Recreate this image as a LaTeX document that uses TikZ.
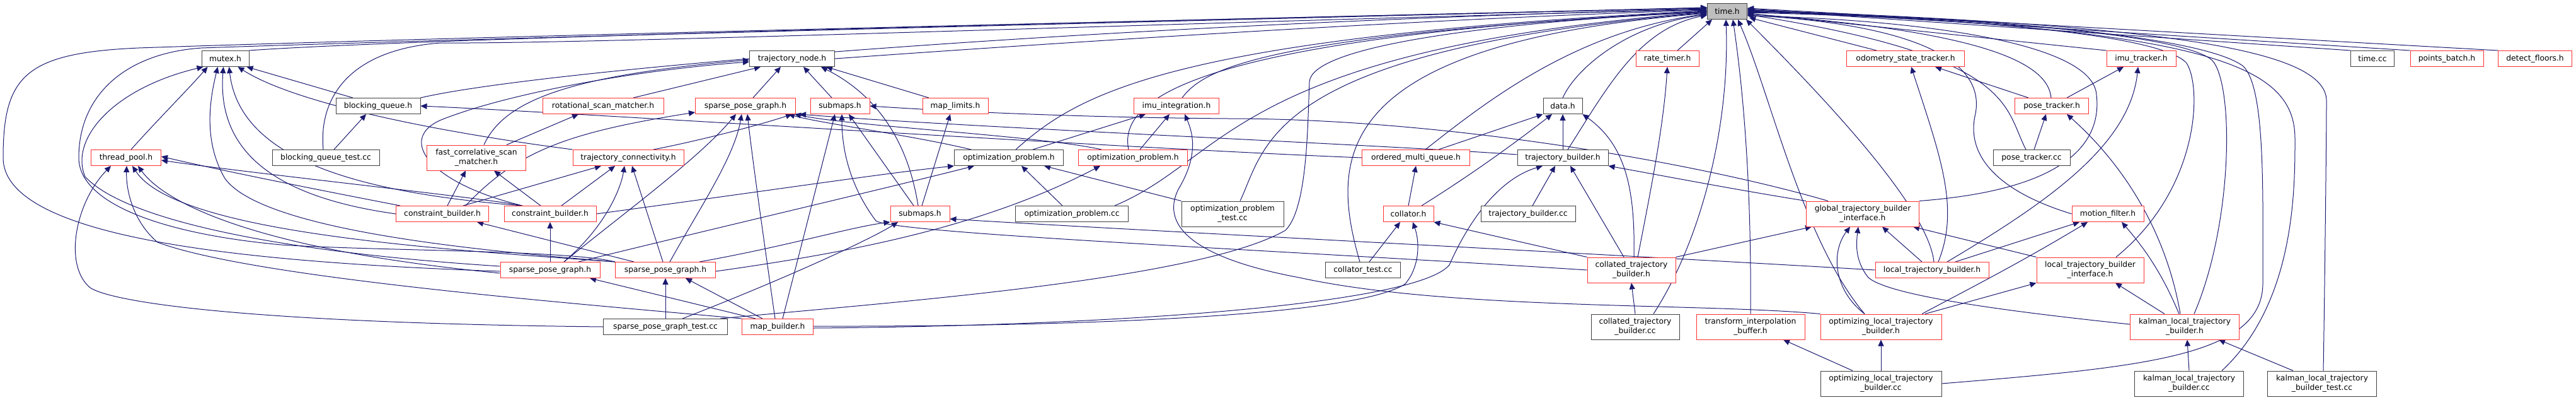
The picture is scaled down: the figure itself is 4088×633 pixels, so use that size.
\documentclass[tikz,border=0pt]{standalone}
\usepackage{fontspec}
\setmainfont{DejaVu Sans}
\usetikzlibrary{arrows.meta}
\definecolor{edgec}{HTML}{191970}
\definecolor{redb}{HTML}{FF3030}
\definecolor{darkb}{HTML}{404040}
\pgfdeclarelayer{bg}
\pgfsetlayers{bg,main}
\tikzset{
 box/.style={draw, line width=1pt, fill=white, inner sep=0pt, minimum height=25pt, font=\fontsize{12.3}{15}\selectfont, align=center},
 rbox/.style={box, draw=redb},
 kbox/.style={box, draw=darkb},
 two/.style={minimum height=40pt},
 e/.style={draw=edgec, line width=1pt, -{Triangle[length=10pt,width=9pt]}},
}
\begin{document}
\begin{tikzpicture}[x=1pt,y=-1pt]
\useasboundingbox (0,0) rectangle (4088,633);
% R0
\node[kbox, fill=gray!50, minimum width=63pt] (time) at (2741,18) {time.h};
% R1
\node[kbox, minimum width=75pt] (mutex) at (357.5,93) {mutex.h};
\node[kbox, minimum width=135pt] (tnode) at (1257,93) {trajectory\_node.h};
\node[rbox, minimum width=100pt] (ratetimer) at (2646,93) {rate\_timer.h};
\node[rbox, minimum width=187pt] (odom) at (3024,93) {odometry\_state\_tracker.h};
\node[rbox, minimum width=110pt] (imutrk) at (3398,93) {imu\_tracker.h};
\node[kbox, minimum width=69pt] (timecc) at (3765,93) {time.cc};
\node[rbox, minimum width=116pt] (pointsb) at (3883,93) {points\_batch.h};
\node[rbox, minimum width=117pt] (detectf) at (4023,93) {detect\_floors.h};
% R2
\node[kbox, minimum width=134pt] (bq) at (600,168) {blocking\_queue.h};
\node[rbox, minimum width=192pt] (rot) at (957,168) {rotational\_scan\_matcher.h};
\node[rbox, minimum width=159pt] (spg2) at (1183,168) {sparse\_pose\_graph.h};
\node[rbox, minimum width=94pt] (sub2) at (1333,168) {submaps.h};
\node[rbox, minimum width=104pt] (maplim) at (1516,168) {map\_limits.h};
\node[rbox, minimum width=135pt] (imuint) at (1867,168) {imu\_integration.h};
\node[kbox, minimum width=62pt] (data) at (2480,168) {data.h};
\node[rbox, minimum width=117pt] (ptrk) at (3256,168) {pose\_tracker.h};
% R3
\node[rbox, minimum width=111pt] (tpool) at (200,250) {thread\_pool.h};
\node[kbox, minimum width=170pt] (bqtest) at (517,250) {blocking\_queue\_test.cc};
\node[rbox, two, minimum width=157pt] (fcsm) at (756,250) {fast\_correlative\_scan\\\_matcher.h};
\node[rbox, minimum width=176pt] (tconn) at (997,250) {trajectory\_connectivity.h};
\node[kbox, minimum width=173pt] (optb) at (1601,250) {optimization\_problem.h};
\node[rbox, minimum width=173pt] (optr) at (1798,250) {optimization\_problem.h};
\node[rbox, minimum width=171pt] (omq) at (2247,250) {ordered\_multi\_queue.h};
\node[kbox, minimum width=144pt] (tb) at (2480,250) {trajectory\_builder.h};
\node[kbox, minimum width=122pt] (ptcc) at (3224,250) {pose\_tracker.cc};
% R4
\node[rbox, minimum width=147pt] (cbA) at (702,339) {constraint\_builder.h};
\node[rbox, minimum width=146pt] (cbB) at (873,339) {constraint\_builder.h};
\node[rbox, minimum width=94pt] (sub4) at (1460,339) {submaps.h};
\node[kbox, minimum width=179pt] (optcc) at (1701,339) {optimization\_problem.cc};
\node[kbox, two, minimum width=162pt] (opttest) at (1956,339) {optimization\_problem\\\_test.cc};
\node[rbox, minimum width=80pt] (coll) at (2235,339) {collator.h};
\node[kbox, minimum width=150pt] (tbcc) at (2425,339) {trajectory\_builder.cc};
\node[rbox, two, minimum width=179pt] (gtbi) at (2956,339) {global\_trajectory\_builder\\\_interface.h};
\node[rbox, minimum width=114pt] (mf) at (3345,339) {motion\_filter.h};
% R5
\node[rbox, minimum width=158pt] (spgA) at (873,428) {sparse\_pose\_graph.h};
\node[rbox, minimum width=159pt] (spgB) at (1056,428) {sparse\_pose\_graph.h};
\node[kbox, minimum width=119pt] (colltest) at (2163,428) {collator\_test.cc};
\node[rbox, two, minimum width=140pt] (ctbh) at (2589,428) {collated\_trajectory\\\_builder.h};
\node[rbox, minimum width=180pt] (ltb) at (3066,428) {local\_trajectory\_builder.h};
\node[rbox, two, minimum width=170pt] (ltbi) at (3317,428) {local\_trajectory\_builder\\\_interface.h};
% R6
\node[kbox, minimum width=197pt] (spgtest) at (1056,518) {sparse\_pose\_graph\_test.cc};
\node[rbox, minimum width=113pt] (mb) at (1234,518) {map\_builder.h};
\node[kbox, two, minimum width=140pt] (ctbcc) at (2595,518) {collated\_trajectory\\\_builder.cc};
\node[rbox, two, minimum width=172pt] (tib) at (2778,518) {transform\_interpolation\\\_buffer.h};
\node[rbox, two, minimum width=192pt] (oltbh) at (2985,518) {optimizing\_local\_trajectory\\\_builder.h};
\node[rbox, two, minimum width=173pt] (kltbh) at (3467,518) {kalman\_local\_trajectory\\\_builder.h};
% R7
\node[kbox, two, minimum width=192pt] (oltbcc) at (2985,608) {optimizing\_local\_trajectory\\\_builder.cc};
\node[kbox, two, minimum width=173pt] (kltbcc) at (3474,608) {kalman\_local\_trajectory\\\_builder.cc};
\node[kbox, two, minimum width=173pt] (kltbtest) at (3685,608) {kalman\_local\_trajectory\\\_builder\_test.cc};

\begin{pgfonlayer}{bg}
% ---- to time.h from the left
\draw[e] (mutex.north east) .. controls (700,58) and (2200,24) .. ([yshift=5]time.west);
\draw[e] (bq.north east) .. controls (850,112) and (1700,40) .. ([yshift=4]time.west);
\draw[e] ([xshift=-4]bqtest.north) .. controls (505,150) and (560,78) .. (700,68) .. controls (950,70) and (2000,32) .. ([yshift=3]time.west);
\draw[e] (tnode.east) .. controls (1700,66) and (2300,28) .. ([yshift=2]time.west);
\draw[e] ([yshift=-2]spgA.west) .. controls (400,416) and (5,380) .. (5,250) .. controls (5,120) and (40,84) .. (220,76) .. controls (800,56) and (2150,26) .. ([yshift=6]time.west);
\draw[e] (spgB.north west) .. controls (900,396) and (600,398) .. (446,388) .. controls (250,370) and (125,320) .. (125,250) .. controls (125,150) and (200,84) .. (320,76) .. controls (900,56) and (2150,27) .. ([yshift=6]time.west);
\draw[e] ([xshift=-12]spgtest.north east) .. controls (1400,480) and (1900,445) .. (2040,365) .. controls (2075,330) and (2075,200) .. (2078,130) .. controls (2080,80) and (2300,40) .. (time.west);
\draw[e] ([xshift=11]optb.north) .. controls (1710,150) and (1850,60) .. ([yshift=1]time.west);
\draw[e] ([xshift=-7]optr.north) .. controls (1775,160) and (1880,60) .. (time.west);
\draw[e] ([xshift=9]imuint.north) .. controls (1910,110) and (2000,55) .. ([yshift=-1]time.west);
\draw[e] ([xshift=68]optcc.north) .. controls (1950,250) and (1955,80) .. ([yshift=-1]time.west);
\draw[e] ([xshift=12]opttest.north) .. controls (2010,230) and (2010,80) .. ([yshift=-2]time.west);
\draw[e] ([xshift=-5]colltest.north) .. controls (2110,250) and (2110,70) .. ([yshift=-3]time.west);
\draw[e] ([xshift=15]omq.north) .. controls (2360,160) and (2500,50) .. ([yshift=-4]time.west);
\draw[e] (data.north) .. controls (2500,110) and (2580,40) .. ([yshift=-5]time.west);
\draw[e] ([xshift=8]tb.north) .. controls (2550,140) and (2600,45) .. ([yshift=-6]time.west);
% ---- to time.h from below
\draw[e] ([xshift=16]ratetimer.north) -- ([xshift=8]time.south west);
\draw[e] ([xshift=29]ctbcc.north) .. controls (2700,380) and (2745,200) .. ([xshift=-2]time.south);
\draw[e] (tib.north) .. controls (2780,250) and (2760,100) .. ([xshift=9]time.south);
\draw[e] ([xshift=-26]oltbh.north) .. controls (2860,380) and (2810,150) .. ([xshift=17]time.south);
\draw[e] ([xshift=3]ltb.north) .. controls (3060,330) and (2900,160) .. ([xshift=-2]time.south east);
\draw[e] ([xshift=-46]odom.north) -- ([xshift=3,yshift=3]time.south east);
% ---- to time.h from the right
\draw[e] (gtbi.north east) .. controls (3290,300) and (3335,220) .. (3327,150) .. controls (3320,60) and (3000,30) .. ([yshift=-7]time.east);
\draw[e] (mf.west) .. controls (3160,300) and (3120,240) .. (3135,180) .. controls (3150,100) and (3050,40) .. ([yshift=-6]time.east);
\draw[e] ([xshift=-9]ptcc.north) .. controls (3180,170) and (3200,90) .. ([yshift=-5]time.east);
\draw[e] ([xshift=-1]ptrk.north) .. controls (3250,100) and (3150,50) .. ([yshift=-4]time.east);
\draw[e] (imutrk.north west) -- ([yshift=-3]time.east);
\draw[e] ([xshift=41]ltbi.north) .. controls (3490,300) and (3495,140) .. (3470,100) .. controls (3420,45) and (3000,25) .. ([yshift=-2]time.east);
\draw[e] ([xshift=15]kltbh.north) .. controls (3545,350) and (3545,130) .. (3510,95) .. controls (3450,45) and (3000,24) .. ([yshift=-1]time.east);
\draw[e] (oltbcc.east) .. controls (3400,582) and (3590,565) .. (3591,450) .. controls (3591,300) and (3595,140) .. (3560,105) .. controls (3480,45) and (3000,23) .. (time.east);
\draw[e] ([xshift=52]kltbcc.north) .. controls (3642,480) and (3642,300) .. (3642,220) .. controls (3642,100) and (3500,45) .. ([yshift=1]time.east);
\draw[e] ([xshift=2]kltbtest.north) .. controls (3690,400) and (3692,200) .. (3692,160) .. controls (3692,80) and (3450,40) .. ([yshift=2]time.east);
\draw[e] (timecc.north west) -- ([yshift=3]time.east);
\draw[e] (pointsb.north west) -- ([yshift=4]time.east);
\draw[e] (detectf.north west) -- ([yshift=5]time.east);
% ---- mutex.h
\draw[e] ([xshift=-40]bq.north) -- ([xshift=-4]mutex.south east);
\draw[e] ([xshift=8]tpool.north) .. controls (250,190) and (300,140) .. ([xshift=-28]mutex.south);
\draw[e] (tconn.north west) .. controls (700,210) and (470,165) .. ([xshift=20]mutex.south);
\draw[e] (cbA.west) .. controls (420,310) and (345,230) .. ([xshift=-3]mutex.south);
\draw[e] ([xshift=29]cbB.north west) .. controls (560,305) and (380,250) .. ([xshift=6]mutex.south);
\draw[e] ([yshift=6]spgA.west) .. controls (450,400) and (200,350) .. (135,280) .. controls (110,220) and (180,140) .. ([xshift=-35]mutex.south);
\draw[e] (spgB.north west) .. controls (800,400) and (420,370) .. (357,283) .. controls (320,220) and (335,150) .. ([xshift=-12]mutex.south);
% ---- thread_pool.h
\draw[e] ([xshift=7]cbA.north west) .. controls (500,300) and (350,270) .. ([yshift=2]tpool.east);
\draw[e] ([xshift=29]cbB.north west) .. controls (780,315) and (400,275) .. ([yshift=-4]tpool.east);
\draw[e] ([yshift=-5]spgA.west) .. controls (400,395) and (260,320) .. ([xshift=19]tpool.south);
\draw[e] (spgB.north west) .. controls (700,395) and (280,370) .. ([xshift=10]tpool.south);
\draw[e] (mb.north west) .. controls (900,480) and (400,440) .. (250,384) .. controls (210,350) and (200,300) .. ([xshift=1]tpool.south);
\draw[e] (spgtest.west) .. controls (400,512) and (180,480) .. (143,456) .. controls (100,420) and (120,320) .. ([xshift=-24]tpool.south);
% ---- blocking_queue.h
\draw[e] ([xshift=13]bqtest.north) -- ([xshift=-19]bq.south);
\draw[e] (omq.west) .. controls (1800,236) and (900,178) .. (bq.east);
% ---- trajectory_node.h
\draw[e] ([xshift=48]rot.north) -- ([xshift=-50]tnode.south);
\draw[e] ([xshift=12]spg2.north) -- ([xshift=-18]tnode.south);
\draw[e] ([xshift=-13]sub2.north) -- ([xshift=18]tnode.south);
\draw[e] ([xshift=-42]maplim.north) -- ([xshift=-14]tnode.south east);
\draw[e] ([xshift=-3]sub4.north) .. controls (1445,250) and (1410,160) .. ([xshift=-22]tnode.south east);
\draw[e] ([xshift=12]fcsm.north) .. controls (800,160) and (900,120) .. ([yshift=-2]tnode.west);
\draw[e] ([xshift=-44]cbB.north) .. controls (680,290) and (630,220) .. (700,190) .. controls (800,150) and (1000,112) .. ([yshift=-5]tnode.west);
% ---- rotational / fast_correlative
\draw[e] ([xshift=48]fcsm.north) -- ([xshift=-39]rot.south);
\draw[e] ([xshift=8]cbA.north) -- ([xshift=-17]fcsm.south);
\draw[e] ([xshift=-15]cbB.north) -- ([xshift=28]fcsm.south);
% ---- sparse_pose_graph.h (top)
\draw[e] ([xshift=37]cbA.north) .. controls (820,240) and (900,210) .. ([yshift=3]spg2.south west);
\draw[e] ([xshift=22]spgA.north) .. controls (1000,330) and (1110,250) .. ([xshift=-15]spg2.south);
\draw[e] ([xshift=7]spgB.north) .. controls (1110,330) and (1165,250) .. ([xshift=-6]spg2.south);
\draw[e] ([xshift=-4]mb.north) .. controls (1215,400) and (1195,260) .. ([xshift=3]spg2.south);
\draw[e] ([xshift=-60]optb.north) .. controls (1450,215) and (1300,195) .. ([xshift=-12]spg2.south east);
\draw[e] ([xshift=-50]optr.north) .. controls (1650,215) and (1350,200) .. ([xshift=-2]spg2.south east);
\draw[e] ([yshift=5]tb.west) .. controls (2200,230) and (1500,200) .. ([xshift=6]spg2.south east);
\draw[e] ([xshift=40]tconn.north) .. controls (1100,225) and (1200,200) .. ([xshift=-6]spg2.south east);
% ---- submaps.h (top)
\draw[e] ([xshift=-55]gtbi.north) .. controls (2700,260) and (2300,188) .. (1950,188) .. controls (1700,186) and (1500,176) .. (sub2.east);
\draw[e] ([xshift=8]mb.north) -- ([xshift=-8]sub2.south);
\draw[e] (ctbh.west) .. controls (2000,395) and (1420,370) .. (1390,350) .. controls (1345,290) and (1336,230) .. ([xshift=3]sub2.south);
\draw[e] ([xshift=-10]sub4.north) -- ([xshift=14]sub2.south);
% ---- map_limits.h
\draw[e] ([xshift=3]sub4.north) -- ([xshift=-8]maplim.south);
% ---- imu_integration.h
\draw[e] ([xshift=38]optb.north) -- ([xshift=-49]imuint.south);
\draw[e] ([xshift=11]optr.north) -- ([xshift=-11]imuint.south);
\draw[e] (oltbh.north west) .. controls (2700,480) and (2300,492) .. (2062,440) .. controls (1900,410) and (1840,360) .. (1870,300) .. controls (1900,250) and (1895,215) .. ([xshift=13]imuint.south);
% ---- trajectory_connectivity.h
\draw[e] ([xshift=33]cbA.north) -- ([xshift=-43]tconn.south);
\draw[e] ([xshift=18]cbB.north) -- ([xshift=-21]tconn.south);
\draw[e] ([xshift=22]spgA.north) .. controls (960,360) and (985,300) .. ([xshift=-6]tconn.south);
\draw[e] ([xshift=-4]spgB.north) -- ([xshift=6]tconn.south);
% ---- optimization_problem.h (black)
\draw[e] (cbB.east) .. controls (1200,305) and (1400,275) .. (optb.south west);
\draw[e] ([xshift=45]spgA.north) .. controls (1100,370) and (1400,300) .. ([xshift=-55]optb.south);
\draw[e] ([xshift=-15]optcc.north) -- ([xshift=20]optb.south);
\draw[e] (opttest.north west) -- ([xshift=56]optb.south);
% ---- optimization_problem.h (red)
\draw[e] ([yshift=-2]spgB.east) .. controls (1350,400) and (1560,360) .. ([xshift=-52]optr.south);
% ---- submaps.h (lower)
\draw[e] ([xshift=54]spgB.north) .. controls (1250,390) and (1350,360) .. (sub4.south west);
\draw[e] ([xshift=27]spgtest.north) .. controls (1250,440) and (1380,380) .. ([xshift=-35]sub4.south);
\draw[e] (ltb.west) .. controls (2500,400) and (1800,365) .. ([yshift=-8]sub4.east);
% ---- constraint builders
\draw[e] ([xshift=30]spgB.north west) -- ([xshift=55]cbA.south);
\draw[e] (spgA.north) -- (cbB.south);
% ---- sparse_pose_graph.h (lower)
\draw[e] ([xshift=-35]mb.north) -- ([xshift=63]spgA.south);
\draw[e] ([xshift=-24]mb.north) -- ([xshift=32]spgB.south);
\draw[e] (spgtest.north) -- (spgB.south);
% ---- data.h
\draw[e] ([xshift=36]omq.north) -- (data.south west);
\draw[e] ([xshift=21]coll.north) .. controls (2330,280) and (2400,230) .. ([xshift=-17]data.south);
\draw[e] (tb.north) -- (data.south);
\draw[e] ([xshift=4]ctbh.north) .. controls (2595,300) and (2580,230) .. (data.south east);
% ---- ordered_multi_queue.h
\draw[e] (coll.north) -- (omq.south);
% ---- trajectory_builder.h
\draw[e] ([xshift=7]tbcc.north) -- ([xshift=-12]tb.south);
\draw[e] ([xshift=-12]ctbh.north) -- ([xshift=12]tb.south);
\draw[e] ([yshift=-2]mb.east) .. controls (1800,516) and (2250,480) .. (2300,420) .. controls (2340,330) and (2390,280) .. ([xshift=-32]tb.south);
\draw[e] (gtbi.north west) .. controls (2750,300) and (2620,275) .. (tb.south east);
% ---- collator.h
\draw[e] ([xshift=10]colltest.north) -- ([xshift=-13]coll.south);
\draw[e] (ctbh.north west) -- (coll.south east);
\draw[e] ([yshift=1]mb.east) .. controls (1700,518) and (2150,502) .. (2230,450) .. controls (2255,420) and (2252,380) .. ([xshift=7]coll.south);
% ---- rate_timer.h
\draw[e] ([xshift=10]ctbh.north) .. controls (2620,300) and (2640,200) .. (ratetimer.south);
% ---- collated_trajectory_builder.h
\draw[e] (ctbcc.north) -- (ctbh.south);
% ---- global_trajectory_builder_interface.h
\draw[e] (ctbh.north east) -- ([xshift=-81]gtbi.south);
\draw[e] ([xshift=-16]ltb.north) -- ([xshift=31]gtbi.south);
\draw[e] ([xshift=-26]oltbh.north) .. controls (2910,460) and (2905,400) .. ([xshift=-20]gtbi.south);
\draw[e] ([yshift=4]kltbh.west) .. controls (3200,495) and (3000,470) .. (2965,440) .. controls (2945,415) and (2945,390) .. ([xshift=-7]gtbi.south);
\draw[e] (ltbi.north west) -- ([xshift=80]gtbi.south);
% ---- odometry / imu tracker / pose tracker
\draw[e] ([xshift=-37]ptrk.north) -- ([xshift=47]odom.south);
\draw[e] ([xshift=10]ltb.north) .. controls (3110,330) and (3080,250) .. ([xshift=9]odom.south);
\draw[e] ([xshift=24]ptrk.north) -- ([xshift=-28]imutrk.south);
\draw[e] ([xshift=24]ltb.north) .. controls (3250,320) and (3380,230) .. ([xshift=-5]imutrk.south);
\draw[e] ([xshift=4]ptcc.north) -- ([xshift=-9]ptrk.south);
\draw[e] ([xshift=-7]kltbh.north) .. controls (3440,380) and (3380,270) .. ([xshift=24]ptrk.south);
% ---- motion_filter.h
\draw[e] ([xshift=37]ltb.north) -- ([xshift=-45]mf.south);
\draw[e] ([xshift=65]oltbh.north) .. controls (3120,460) and (3200,420) .. ([xshift=-32]mf.south);
\draw[e] ([xshift=-9]kltbh.north) .. controls (3430,430) and (3400,390) .. ([xshift=22]mf.south);
% ---- local_trajectory_builder_interface.h
\draw[e] ([xshift=70]oltbh.north) -- (ltbi.south west);
\draw[e] ([xshift=-32]kltbh.north) -- ([xshift=40]ltbi.south);
% ---- bottom row
\draw[e] (oltbcc.north) -- (oltbh.south);
\draw[e] ([xshift=-45]oltbcc.north) -- ([xshift=52]tib.south);
\draw[e] (kltbcc.north) -- ([xshift=4]kltbh.south);
\draw[e] ([xshift=-46]kltbtest.north) -- ([xshift=54]kltbh.south);
\end{pgfonlayer}
\end{tikzpicture}
\end{document}
